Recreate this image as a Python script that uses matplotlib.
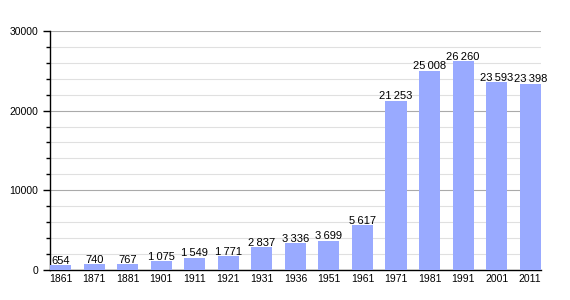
import matplotlib.pyplot as plt
import numpy as np

years = ["1861", "1871", "1881", "1901", "1911", "1921", "1931", "1936",
         "1951", "1961", "1971", "1981", "1991", "2001", "2011"]
population = [654, 740, 767, 1075, 1549, 1771, 2837, 3336,
              3699, 5617, 21253, 25008, 26260, 23593, 23398]

plt.rcParams['font.family'] = ['Liberation Sans', 'DejaVu Sans']

fig = plt.figure(figsize=(5.7, 3.0), dpi=100)
ax = fig.add_axes([0.0877, 0.1, 0.861, 0.797])

x = np.arange(len(years))
ax.bar(x, population, width=0.63, color="#99aaff", zorder=3)

for xi, v in zip(x, population):
    label = f"{v:,}".replace(",", "\u2009")
    ax.text(xi, v - 100, label, ha="center", va="bottom", fontsize=8,
            color="black", zorder=4)

ax.set_xlim(-0.315, len(years) - 1 + 0.315)
ax.set_ylim(0, 30000)
ax.set_xticks(x)
ax.set_xticklabels(years, fontsize=7.5)
ax.set_yticks([0, 10000, 20000, 30000])
ax.set_yticks(np.arange(0, 30001, 2000), minor=True)
ax.tick_params(axis="y", which="major", labelsize=7.5, length=5, width=1)
ax.tick_params(axis="y", which="minor", length=3, width=1)
ax.tick_params(axis="x", length=0, pad=3)

ax.grid(axis="y", which="minor", color="#e0e0e0", linewidth=0.8, zorder=0)
ax.grid(axis="y", which="major", color="#aaaaaa", linewidth=0.8, zorder=1)

for side in ["top", "right"]:
    ax.spines[side].set_visible(False)
ax.spines["left"].set_linewidth(1)
ax.spines["bottom"].set_linewidth(1)

fig.savefig("out.png", dpi=100)
